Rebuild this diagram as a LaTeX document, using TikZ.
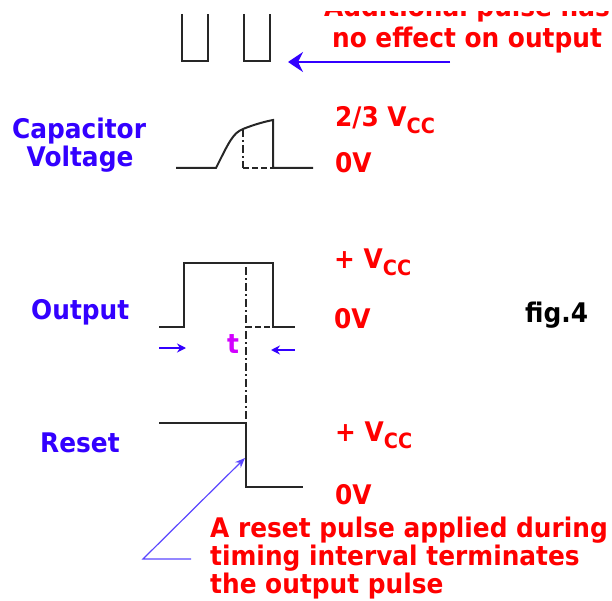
\documentclass[tikz,border=0pt]{standalone}
\usepackage{fontspec}
\setmainfont{DejaVu Sans}[FakeStretch=0.92]
\usetikzlibrary{arrows.meta}
\newcommand{\Vcc}{V\raisebox{-7pt}{\fontsize{21}{21}\selectfont CC}}
\begin{document}
\begin{tikzpicture}[x=1pt,y=-1pt,>=stealth]
\tikzset{
  wave/.style={draw=black!85, line width=2pt},
  guide/.style={draw=black!85, line width=1.6pt, dash pattern=on 8pt off 3pt on 2pt off 3pt},
  level/.style={draw=black!85, line width=1.6pt, dash pattern=on 6pt off 3pt},
  lbl/.style={font=\fontsize{27}{29}\selectfont\bfseries, inner sep=0pt},
  signame/.style={lbl, text=labelblue, anchor=base west},
  volts/.style={lbl, text=notered, anchor=base west},
  pointer/.style={draw=labelblue, line width=2pt}
}

\definecolor{labelblue}{RGB}{51,0,255}
\definecolor{notered}{RGB}{255,0,0}
\definecolor{tmagenta}{RGB}{210,0,255}
\definecolor{leaderblue}{RGB}{90,70,255}

\useasboundingbox (0,0) rectangle (612,601);
\clip (0,12) rectangle (612,601);

\begin{scope}
  \draw[wave] (182,14) -- (182,61) -- (208,61) -- (208,14);
  \draw[wave] (244,14) -- (244,61) -- (270,61) -- (270,14);
  \node[lbl, text=notered, align=center, anchor=base, font=\fontsize{27}{31}\selectfont\bfseries] (addnote) at (467,48)
    {Additional pulse has\\no effect on output};
  \coordinate (addtail) at (450,62);
  \coordinate (addtip) at (288,62);
  \draw[pointer, -{Stealth[length=15pt,width=20pt]}] (addtail) -- (addtip);
\end{scope}

\begin{scope}
  \node[signame, anchor=base] (capname) at (79,139) {Capacitor};
  \node[signame, anchor=base] (voltname) at (80,167) {Voltage};
  \draw[wave] (176,168) -- (216,168) .. controls (229,142) and (233,133) .. (243,129)
    .. controls (253,125) and (263,122) .. (273,120) -- (273,168) -- (313,168);
  \draw[guide] (243,129) -- (243,168);
  \draw[level] (243,168) -- (273,168);
  \node[volts] (captop) at (335,127) {2/3 \Vcc};
  \node[volts] (capzero) at (335,173) {0V};
\end{scope}

\begin{scope}
  \node[signame] (outname) at (31,319) {Output};
  \draw[wave] (159,327) -- (184,327) -- (184,263) -- (273,263) -- (273,327) -- (295,327);
  \draw[level] (246,327) -- (273,327);
  \node[volts] (outtop) at (334,269) {+ \Vcc};
  \node[volts] (outzero) at (334,328) {0V};
  \node[lbl, anchor=base west] (fig) at (525,322) {fig.4};
  \node[lbl, text=tmagenta, anchor=base] (tlabel) at (233,353) {t};
  \coordinate (tstart) at (159,348);
  \coordinate (tstartend) at (186,348);
  \coordinate (tstop) at (295,350);
  \coordinate (tstopend) at (271,350);
  \draw[pointer, -{Stealth[length=9pt,width=9pt]}] (tstart) -- (tstartend);
  \draw[pointer, -{Stealth[length=9pt,width=9pt]}] (tstop) -- (tstopend);
\end{scope}

\draw[guide] (246,267) -- (246,423);

\begin{scope}
  \node[signame] (resetname) at (40,452) {Reset};
  \draw[wave] (159,423) -- (246,423) -- (246,487) -- (303,487);
  \node[volts] (resettop) at (335,441) {+ \Vcc};
  \node[volts] (resetzero) at (335,504) {0V};
  \node[lbl, text=notered, align=left, anchor=base west, font=\fontsize{27}{28}\selectfont\bfseries] (resetnote) at (210,593)
    {A reset pulse applied during\\timing interval terminates\\the output pulse};
  \coordinate (leadend) at (191,559);
  \coordinate (leadcorner) at (143,559);
  \coordinate (leadtip) at (245,458);
  \draw[draw=leaderblue, line width=1.2pt, -{Stealth[length=10pt,width=8pt]}]
    (leadend) -- (leadcorner) -- (leadtip);
\end{scope}
\end{tikzpicture}
\end{document}
